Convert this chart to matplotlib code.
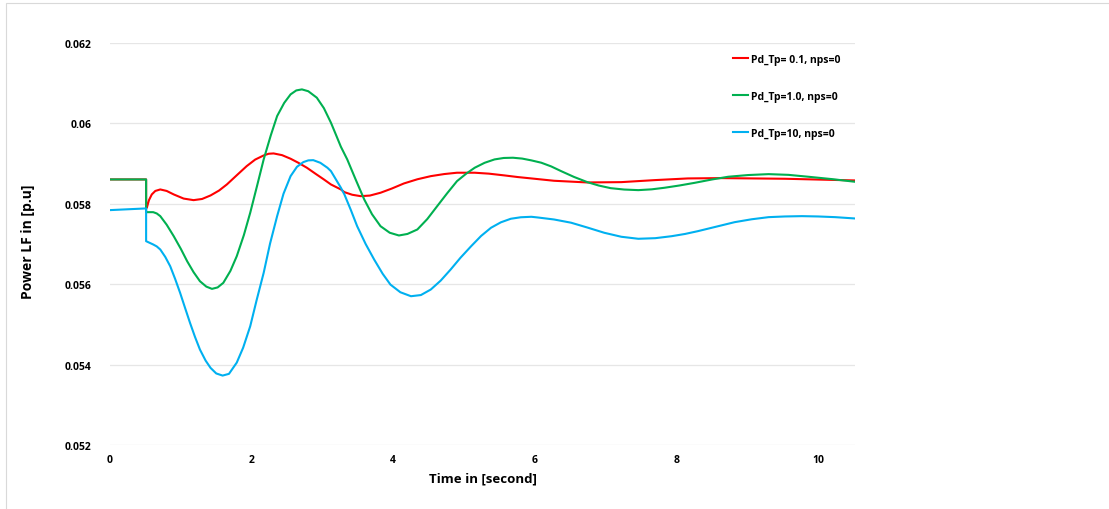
import matplotlib
matplotlib.use("Agg")
from matplotlib import pyplot
from matplotlib.patches import Rectangle

pyplot.rcParams["font.family"] = ["Liberation Sans Narrow", "Open Sans", "DejaVu Sans"]
pyplot.rcParams["font.weight"] = "bold"

# Pd_Tp = 0.1
t_red = [0, 0.51, 0.51, 0.52, 0.55, 0.59, 0.64, 0.71, 0.80, 0.90, 1.04, 1.18, 1.30,
         1.42, 1.54, 1.65, 1.79, 1.93, 2.05, 2.17, 2.24, 2.31, 2.43, 2.55, 2.66,
         2.78, 2.90, 3.02, 3.12, 3.26, 3.31, 3.42, 3.54, 3.67, 3.82, 3.98, 4.15,
         4.34, 4.53, 4.72, 4.90, 5.15, 5.35, 5.57, 5.76, 5.95, 6.27, 6.74, 7.22,
         7.69, 8.16, 8.63, 9.53, 10.52]
p_red = [0.058606, 0.058606, 0.057900, 0.057901, 0.058090, 0.058233, 0.058320,
         0.058357, 0.058320, 0.058233, 0.058130, 0.058091, 0.058120, 0.058208,
         0.058330, 0.058481, 0.058710, 0.058937, 0.059100, 0.059203, 0.059245,
         0.059253, 0.059210, 0.059121, 0.059020, 0.058897, 0.058750, 0.058606,
         0.058481, 0.058357, 0.058290, 0.058225, 0.058190, 0.058205, 0.058275,
         0.058380, 0.058506, 0.058610, 0.058688, 0.058740, 0.058773, 0.058773,
         0.058750, 0.058706, 0.058665, 0.058631, 0.058573, 0.058531, 0.058539,
         0.058589, 0.058631, 0.058639, 0.058623, 0.058581]

# Pd_Tp = 1.0
t_green = [0, 0.51, 0.51, 0.61, 0.66, 0.71, 0.80, 0.90, 1.00, 1.09, 1.18, 1.27,
           1.36, 1.44, 1.52, 1.60, 1.70, 1.79, 1.89, 1.98, 2.08, 2.17, 2.27, 2.36,
           2.46, 2.55, 2.63, 2.71, 2.80, 2.92, 3.02, 3.12, 3.19, 3.26, 3.35, 3.47,
           3.59, 3.70, 3.82, 3.95, 4.08, 4.20, 4.34, 4.48, 4.62, 4.76, 4.90, 5.03,
           5.15, 5.29, 5.43, 5.56, 5.69, 5.82, 5.95, 6.09, 6.23, 6.37, 6.55, 6.74,
           6.90, 7.07, 7.26, 7.46, 7.65, 7.83, 8.04, 8.26, 8.50, 8.73, 9.01, 9.30,
           9.58, 9.86, 10.19, 10.52]
p_green = [0.058606, 0.058606, 0.057792, 0.057792, 0.057760, 0.057693, 0.057480,
           0.057194, 0.056880, 0.056570, 0.056300, 0.056074, 0.055940, 0.055884,
           0.055920, 0.056034, 0.056330, 0.056697, 0.057220, 0.057777, 0.058470,
           0.059104, 0.059700, 0.060183, 0.060510, 0.060722, 0.060820, 0.060846,
           0.060800, 0.060640, 0.060380, 0.060017, 0.059720, 0.059420, 0.059104,
           0.058600, 0.058108, 0.057740, 0.057443, 0.057280, 0.057212, 0.057250,
           0.057361, 0.057620, 0.057941, 0.058260, 0.058564, 0.058750, 0.058897,
           0.059020, 0.059104, 0.059140, 0.059146, 0.059125, 0.059080, 0.059022,
           0.058930, 0.058813, 0.058670, 0.058539, 0.058455, 0.058389, 0.058355,
           0.058340, 0.058360, 0.058399, 0.058455, 0.058523, 0.058605, 0.058673,
           0.058715, 0.058738, 0.058720, 0.058673, 0.058615, 0.058548]

# Pd_Tp = 10
t_blue = [0, 0.51, 0.51, 0.61, 0.66, 0.71, 0.78, 0.85, 0.92, 0.99, 1.06, 1.13,
          1.20, 1.27, 1.35, 1.42, 1.50, 1.59, 1.68, 1.79, 1.88, 1.98, 2.07, 2.17,
          2.26, 2.36, 2.45, 2.55, 2.64, 2.73, 2.80, 2.87, 2.97, 3.07, 3.12, 3.26,
          3.31, 3.40, 3.49, 3.61, 3.73, 3.85, 3.96, 4.10, 4.25, 4.39, 4.53, 4.67,
          4.81, 4.95, 5.10, 5.24, 5.38, 5.52, 5.66, 5.80, 5.95, 6.04, 6.27, 6.51,
          6.74, 6.98, 7.22, 7.46, 7.70, 7.93, 8.12, 8.30, 8.63, 8.82, 9.06, 9.30,
          9.53, 9.77, 10.00, 10.24, 10.52]
p_blue = [0.057843, 0.057885, 0.057070, 0.056988, 0.056940, 0.056863, 0.056680,
          0.056448, 0.056130, 0.055785, 0.055410, 0.055038, 0.054690, 0.054374,
          0.054100, 0.053918, 0.053780, 0.053727, 0.053770, 0.054050, 0.054420,
          0.054954, 0.055600, 0.056283, 0.057010, 0.057693, 0.058250, 0.058688,
          0.058920, 0.059037, 0.059080, 0.059086, 0.059020, 0.058897, 0.058813,
          0.058400, 0.058233, 0.057850, 0.057443, 0.057000, 0.056614, 0.056260,
          0.055990, 0.055800, 0.055701, 0.055730, 0.055868, 0.056090, 0.056365,
          0.056660, 0.056946, 0.057200, 0.057404, 0.057540, 0.057628, 0.057665,
          0.057677, 0.057660, 0.057610, 0.057530, 0.057410, 0.057279, 0.057180,
          0.057130, 0.057145, 0.057194, 0.057250, 0.057319, 0.057461, 0.057543,
          0.057615, 0.057668, 0.057685, 0.057693, 0.057685, 0.057668, 0.057635]

labels = ["Pd_Tp= 0.1, nps=0", "Pd_Tp=1.0, nps=0", "Pd_Tp=10, nps=0"]
colors = ["#ff0000", "#00b050", "#00b0f0"]

W, H = 1109, 510
fig = pyplot.figure(figsize=(W / 100, H / 100), dpi=100)
ax = fig.add_axes([110 / W, 1 - 446 / H, 745 / W, 402 / H])

for t, p, label, color in zip([t_red, t_green, t_blue], [p_red, p_green, p_blue], labels, colors):
    ax.plot(t, p, color=color, lw=1.5, label=label, solid_joinstyle="round")

ax.set_xlim(0, 10.52)
ax.set_ylim(0.052, 0.062)
ax.set_xticks([0, 2, 4, 6, 8, 10])
ax.set_xticklabels(["0", "2", "4", "6", "8", "10"])
ax.set_yticks([0.052, 0.054, 0.056, 0.058, 0.060, 0.062])
ax.set_yticklabels(["0.052", "0.054", "0.056", "0.058", "0.06", "0.062"])
ax.tick_params(axis="y", length=0, pad=13.5, labelsize=7.5, labelcolor="#000000")
ax.tick_params(axis="x", length=0, pad=6.5, labelsize=7.5, labelcolor="#000000")
ax.grid(axis="y", color="#e6e6e6", lw=0.9)
ax.set_axisbelow(True)
for side in ax.spines.values():
    side.set_visible(False)

ax.set_xlabel("Time in [second]", fontsize=9.5, fontweight="bold", labelpad=5)
ax.set_ylabel("Power LF in [p.u]", fontsize=10, fontweight="bold")
ax.yaxis.set_label_coords(-75 / 745, 0.5 + (446 - 242 - 201) / 402)

ax.legend(loc="upper left", bbox_to_anchor=(733 / W, 1 - 55 / H),
          bbox_transform=fig.transFigure, frameon=False, fontsize=7.5,
          handlelength=1.45, handletextpad=0.25, labelspacing=2.5,
          borderpad=0, borderaxespad=0)

fig.patches.append(Rectangle((6 / W, -0.1), 1.2, 1 - 4 / H + 0.1, transform=fig.transFigure,
                             fill=False, edgecolor="#d9d9d9", lw=0.8))

fig.savefig("out.png", dpi=100)
